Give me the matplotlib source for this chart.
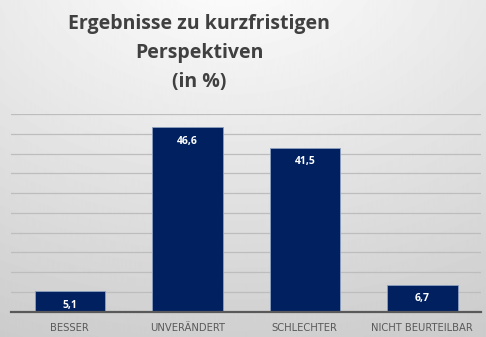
import numpy as np
import matplotlib.pyplot as plt

categories = ["BESSER", "UNVERÄNDERT", "SCHLECHTER", "NICHT BEURTEILBAR"]
values = [5.1, 46.6, 41.5, 6.7]
value_labels = ["5,1", "46,6", "41,5", "6,7"]
title = "Ergebnisse zu kurzfristigen\nPerspektiven\n(in %)"

fig = plt.figure(figsize=(4.86, 3.37), dpi=100)

# background gradient (light at top centre, grey towards bottom)
bg = fig.add_axes([0, 0, 1, 1], zorder=-10)
yy, xx = np.mgrid[0:337, 0:486]
d = np.sqrt(((xx - 230) / 486.0) ** 2 + ((yy + 40) / 337.0) ** 2)
shade = 1.0 - 0.2 * np.clip(d / 1.2, 0, 1)
bg.imshow(shade, cmap="gray", vmin=0, vmax=1, aspect="auto")
bg.axis("off")

ax = fig.add_axes([11 / 486, 1 - 311.5 / 337, 470 / 486, 197.5 / 337])
ax.patch.set_alpha(0)
x = np.arange(len(categories))
ax.bar(x, values, width=0.6, color="#002060", edgecolor="#8ea0c0", linewidth=0.6, zorder=3)
for xi, v, lab in zip(x, values, value_labels):
    ax.annotate(lab, (xi, v), xytext=(0, -10), textcoords="offset points",
                ha="center", va="center", color="white", fontsize=7.5,
                fontweight="bold", family=["Open Sans", "DejaVu Sans"])

ax.set_xlim(-0.5, 3.5)
ax.set_ylim(0, 50)
ax.set_yticks(np.arange(0, 51, 5))
ax.yaxis.grid(True, color="#bdbdbd", linewidth=0.9, zorder=0)
ax.tick_params(axis="y", left=False, labelleft=False)
ax.tick_params(axis="x", length=0, pad=8, labelsize=7.2, labelcolor="#595959")
ax.set_xticks(x)
ax.set_xticklabels(categories, family=["Liberation Sans Narrow", "DejaVu Sans"])
for s in ["top", "right", "left"]:
    ax.spines[s].set_visible(False)
ax.spines["bottom"].set_color("#595959")
ax.spines["bottom"].set_linewidth(1.6)
ax.spines["bottom"].set_zorder(4)

fig.text(199 / 486, 1 - 53 / 337, title, ha="center", va="center",
         fontsize=14, fontweight="bold", color="#404040",
         family=["Open Sans", "DejaVu Sans"], linespacing=1.6)

fig.savefig("out.png", dpi=100)
